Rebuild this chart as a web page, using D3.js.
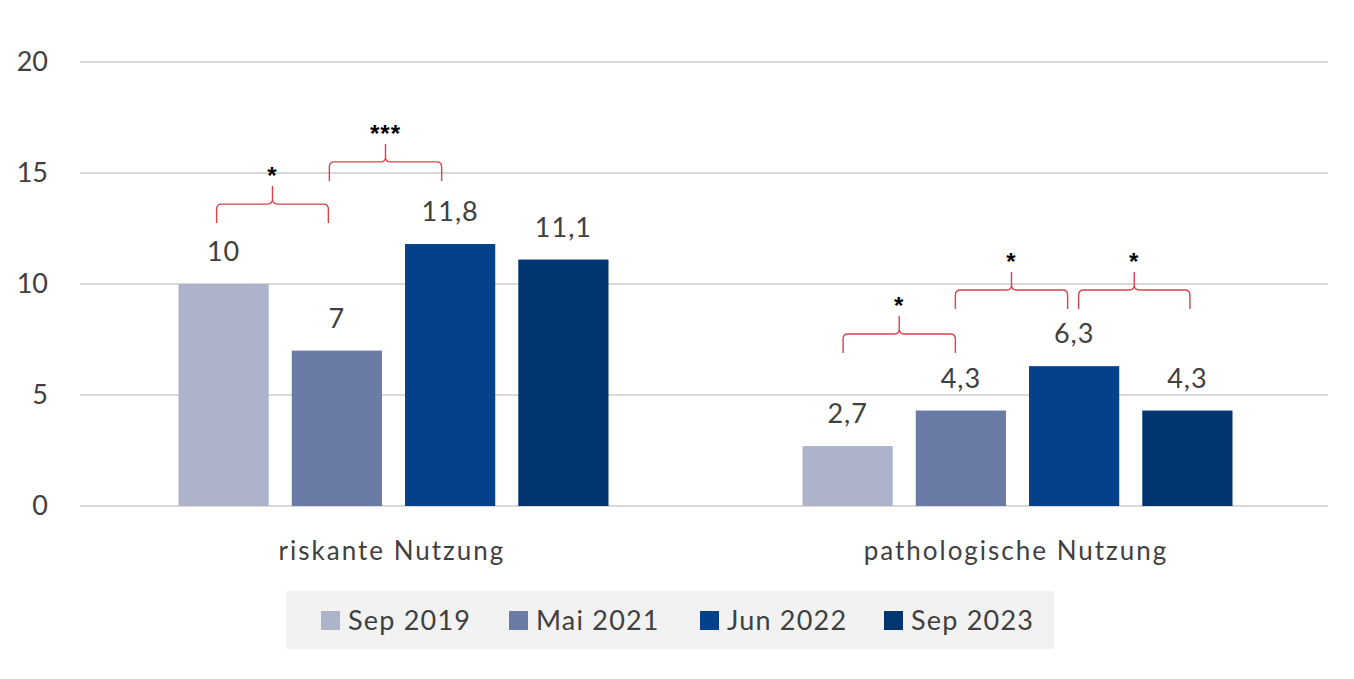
<!DOCTYPE html>
<html>
<head>
<meta charset="utf-8">
<script src="https://cdn.jsdelivr.net/npm/d3@7"></script>
<style>
  body { margin: 0; background: #fff; }
  text { font-family: Lato, "Noto Sans", sans-serif; fill: #404040; }
</style>
</head>
<body>
<div id="chart"></div>
<script>
// data
var categories = ["riskante Nutzung", "pathologische Nutzung"];
var seriesNames = ["Sep 2019", "Mai 2021", "Jun 2022", "Sep 2023"];
var sep2019 = [10, 2.7];
var mai2021 = [7, 4.3];
var jun2022 = [11.8, 6.3];
var sep2023 = [11.1, 4.3];
var yTicks = [0, 5, 10, 15, 20];
// significance brackets: category, from/to series, level (chart units), label
var brackets = [
  { cat: 0, from: 0, to: 1, level: 13.6, label: "*" },
  { cat: 0, from: 1, to: 2, level: 15.5, label: "***" },
  { cat: 1, from: 0, to: 1, level: 7.75, label: "*" },
  { cat: 1, from: 1, to: 2, level: 9.73, label: "*" },
  { cat: 1, from: 2, to: 3, level: 9.73, label: "*" }
];
// small nudges of bracket ends from the bar centres
var bracketNudge = [[-7, -8.5], [-7.5, -8.5], [-4.5, -5.5], [-5.5, -6.5], [4.5, 2.5]];

var colors = ["#adb4c9", "#6a7ba6", "#03428a", "#023670"];
var allSeries = [sep2019, mai2021, jun2022, sep2023];

var svgWidth = 1354;
var svgHeight = 679;
var margin = { top: 62, right: 26, bottom: 173, left: 80 };
var width = svgWidth - margin.left - margin.right;
var height = svgHeight - margin.top - margin.bottom;

var svg = d3.select("#chart")
  .append("svg")
  .attr("width", svgWidth)
  .attr("height", svgHeight);

var chartGroup = svg.append("g")
  .attr("transform", `translate(${margin.left}, ${margin.top})`);

var x0 = d3.scaleBand()
  .domain(categories)
  .range([0, width])
  .padding(0);

var x1 = d3.scaleBand()
  .domain(seriesNames)
  .range([98.5, 528.5])
  .paddingInner(0.2035)
  .paddingOuter(0);

var yScale = d3.scaleLinear()
  .domain([0, 20])
  .range([height, 0]);

// gridlines
chartGroup.append("g")
  .selectAll("line")
  .data(yTicks)
  .enter()
  .append("line")
  .attr("x1", 0)
  .attr("x2", width)
  .attr("y1", d => yScale(d))
  .attr("y2", d => yScale(d))
  .attr("stroke", "#d9d9d9")
  .attr("stroke-width", 2);

// y axis labels
var leftAxis = d3.axisLeft(yScale).tickValues(yTicks).tickSize(0).tickPadding(32);
var yAxisG = chartGroup.append("g").call(leftAxis);
yAxisG.select(".domain").remove();
yAxisG.selectAll("text")
  .attr("font-size", "27px")
  .attr("font-family", null)
  .attr("fill", null);

// bars
var rows = [];
categories.forEach(function(c, ci) {
  seriesNames.forEach(function(s, si) {
    rows.push({ cat: c, ci: ci, series: s, si: si, value: allSeries[si][ci] });
  });
});

chartGroup.selectAll("rect.bar")
  .data(rows)
  .enter()
  .append("rect")
  .attr("class", "bar")
  .attr("x", d => x0(d.cat) + x1(d.series))
  .attr("y", d => yScale(d.value))
  .attr("width", x1.bandwidth())
  .attr("height", d => height - yScale(d.value))
  .attr("fill", d => colors[d.si]);

// value labels
chartGroup.selectAll("text.val")
  .data(rows)
  .enter()
  .append("text")
  .attr("class", "val")
  .attr("x", d => x0(d.cat) + x1(d.series) + x1.bandwidth() / 2)
  .attr("y", d => yScale(d.value) - 23)
  .attr("text-anchor", "middle")
  .attr("font-size", "27px")
  .attr("letter-spacing", "1px")
  .text(d => String(d.value).replace(".", ","));

// category labels
var bottomAxis = d3.axisBottom(x0).tickSize(0).tickPadding(36);
var xAxisG = chartGroup.append("g")
  .attr("transform", `translate(0, ${height})`)
  .call(bottomAxis);
xAxisG.select(".domain").remove();
xAxisG.selectAll("text")
  .attr("font-size", "26px")
  .attr("letter-spacing", "2px")
  .attr("font-family", null)
  .attr("fill", null);

// brackets
function bracketPath(xa, xb, yb) {
  var xm = (xa + xb) / 2, r = 5;
  return `M${xa},${yb + 19} L${xa},${yb + r} Q${xa},${yb} ${xa + r},${yb} L${xm - r},${yb} Q${xm},${yb} ${xm},${yb - r} L${xm},${yb - 18}` +
    ` M${xm},${yb - r} Q${xm},${yb} ${xm + r},${yb} L${xb - r},${yb} Q${xb},${yb} ${xb},${yb + r} L${xb},${yb + 19}`;
}

function bracketEnds(d, i) {
  var c = categories[d.cat];
  var xa = x0(c) + x1(seriesNames[d.from]) + x1.bandwidth() / 2 + bracketNudge[i][0];
  var xb = x0(c) + x1(seriesNames[d.to]) + x1.bandwidth() / 2 + bracketNudge[i][1];
  return [xa, xb];
}

var bracketG = chartGroup.selectAll("g.bracket")
  .data(brackets)
  .enter()
  .append("g")
  .attr("class", "bracket");

bracketG.append("path")
  .attr("d", function(d, i) {
    var e = bracketEnds(d, i);
    return bracketPath(e[0], e[1], yScale(d.level));
  })
  .attr("fill", "none")
  .attr("stroke", "#d9434c")
  .attr("stroke-width", 1.4);

bracketG.append("text")
  .attr("x", function(d, i) {
    var e = bracketEnds(d, i);
    return (e[0] + e[1]) / 2;
  })
  .attr("y", d => yScale(d.level) - 20)
  .attr("text-anchor", "middle")
  .attr("font-size", "24px")
  .attr("font-weight", "bold")
  .attr("letter-spacing", "1px")
  .style("font-family", "'Liberation Sans', sans-serif")
  .style("fill", "#000")
  .text(d => d.label);

// legend
var legend = svg.append("g");
legend.append("rect")
  .attr("x", 286)
  .attr("y", 591)
  .attr("width", 768)
  .attr("height", 58)
  .attr("fill", "#f2f2f2");

var legendX = [321, 509, 700, 884];
var items = legend.selectAll("g.item")
  .data(seriesNames)
  .enter()
  .append("g")
  .attr("class", "item")
  .attr("transform", (d, i) => `translate(${legendX[i]}, 611)`);

items.append("rect")
  .attr("width", 19)
  .attr("height", 19)
  .attr("fill", (d, i) => colors[i]);

items.append("text")
  .attr("x", 27)
  .attr("y", 19)
  .attr("font-size", "27px")
  .attr("letter-spacing", "1.2px")
  .text(d => d);
</script>
</body>
</html>
